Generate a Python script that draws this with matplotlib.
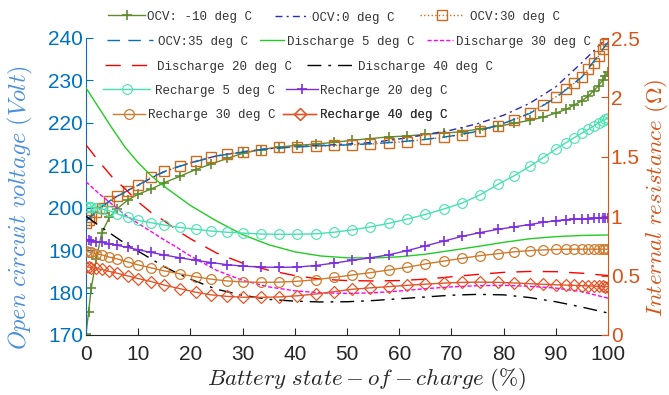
import matplotlib
matplotlib.use("Agg")
import matplotlib.pyplot as plt

plt.rcParams['font.family'] = ['Liberation Sans', 'DejaVu Sans']
plt.rcParams['mathtext.fontset'] = 'cm'

# state of charge grids (%)
soc_fine = [0, 0.5, 1, 2, 3, 4.5, 6, 8, 10, 12.5, 15, 18, 21, 24, 27, 30, 33.5, 37, 40.5, 44,
            47.5, 51, 54.5, 58, 61.5, 65, 68.5, 72, 75.5, 79, 82, 85, 87.5, 90, 92, 93.5, 95,
            96.2, 97.3, 98.2, 99, 99.5, 100]
soc_coarse = [0, 2.5, 5, 7.5, 10, 12.5, 15, 17.5, 20, 25, 30, 35, 40, 45, 50, 55, 60, 65, 70,
              75, 80, 85, 90, 95, 100]

# open circuit voltage (V)
ocv_m10 = [170.3, 175.5, 181, 188, 194, 197.8, 199.8, 201.8, 203.2, 204.4, 205.9, 207.4, 209,
           210.3, 211.6, 212.8, 213.7, 214.3, 214.7, 215.0, 215.4, 215.9, 216.3, 216.7, 216.9,
           217.3, 217.6, 217.9, 218.6, 219.2, 219.9, 220.6, 221.3, 222.3, 223.2, 224.2, 225.2,
           226.3, 227.6, 228.8, 230.2, 231.0, 232.0]
ocv_30 = [196.5, 197.2, 197.8, 199, 200, 201.5, 202.7, 204, 205.4, 207.2, 208.6, 209.8, 211,
          212, 212.6, 213.1, 213.7, 214.2, 214.4, 214.5, 214.7, 214.8, 215.0, 215.3, 215.6,
          216.1, 216.6, 217.2, 218.1, 219.3, 220.7, 222.4, 224.2, 226.1, 228.0, 229.3, 230.9,
          232.6, 234.2, 235.8, 237.4, 238.5, 239.3]
ocv_0 = [197, 199.8, 202, 203.8, 205.3, 207, 208.5, 209.6, 210.6, 212.2, 213.2, 213.9, 214.4,
         214.7, 215.0, 215.4, 216.2, 217.2, 218.3, 219.8, 221.8, 224.6, 228.5, 234.2, 240.3]
ocv_35 = [196.8, 199.8, 202.0, 203.7, 205.3, 207.1, 208.5, 209.6, 210.5, 212.2, 213.1, 213.9,
          214.3, 214.6, 214.8, 215.1, 215.5, 216.1, 216.9, 218.0, 219.9, 222.2, 225.9, 230.8,
          239.0]

# internal resistance while discharging (ohm)
dis_5 = [2.08, 1.91, 1.74, 1.58, 1.45, 1.34, 1.25, 1.17, 1.09, 0.96, 0.845, 0.76, 0.70, 0.665,
         0.65, 0.648, 0.658, 0.68, 0.712, 0.745, 0.78, 0.81, 0.828, 0.838, 0.842]
dis_20 = [1.60, 1.46, 1.33, 1.23, 1.12, 1.03, 0.96, 0.88, 0.81, 0.69, 0.605, 0.545, 0.50, 0.47,
          0.458, 0.455, 0.458, 0.47, 0.49, 0.51, 0.527, 0.535, 0.533, 0.52, 0.50]
dis_30 = [1.29, 1.19, 1.10, 1.01, 0.94, 0.87, 0.80, 0.735, 0.665, 0.545, 0.46, 0.405, 0.372,
          0.355, 0.35, 0.355, 0.37, 0.39, 0.405, 0.415, 0.418, 0.41, 0.395, 0.365, 0.31]
dis_40 = [1.0, 0.92, 0.845, 0.77, 0.705, 0.64, 0.575, 0.52, 0.47, 0.385, 0.335, 0.30, 0.285,
          0.278, 0.28, 0.29, 0.305, 0.32, 0.335, 0.342, 0.338, 0.315, 0.28, 0.235, 0.185]

# internal resistance while recharging (ohm)
rec_5 = [1.08, 1.078, 1.075, 1.068, 1.06, 1.045, 1.02, 0.99, 0.965, 0.945, 0.925, 0.905, 0.89,
         0.875, 0.865, 0.858, 0.85, 0.848, 0.848, 0.852, 0.865, 0.885, 0.91, 0.94, 0.975, 1.015,
         1.06, 1.11, 1.18, 1.27, 1.34, 1.42, 1.49, 1.565, 1.62, 1.66, 1.70, 1.73, 1.76, 1.785,
         1.805, 1.815, 1.83]
rec_20 = [0.80, 0.797, 0.794, 0.787, 0.78, 0.768, 0.755, 0.737, 0.717, 0.695, 0.673, 0.65,
          0.628, 0.61, 0.592, 0.58, 0.572, 0.569, 0.572, 0.585, 0.605, 0.628, 0.65, 0.675, 0.71,
          0.75, 0.79, 0.83, 0.862, 0.89, 0.91, 0.93, 0.948, 0.962, 0.97, 0.975, 0.978, 0.98,
          0.981, 0.982, 0.982, 0.982, 0.982]
rec_30 = [0.705, 0.70, 0.695, 0.685, 0.675, 0.655, 0.64, 0.615, 0.59, 0.565, 0.54, 0.515, 0.49,
          0.47, 0.455, 0.447, 0.443, 0.445, 0.452, 0.465, 0.485, 0.505, 0.525, 0.547, 0.57,
          0.598, 0.622, 0.645, 0.668, 0.685, 0.70, 0.71, 0.716, 0.72, 0.722, 0.722, 0.722,
          0.722, 0.722, 0.722, 0.722, 0.722, 0.722]
rec_40 = [0.575, 0.572, 0.568, 0.56, 0.552, 0.535, 0.52, 0.497, 0.475, 0.45, 0.42, 0.39, 0.36,
          0.338, 0.325, 0.318, 0.317, 0.32, 0.33, 0.345, 0.365, 0.385, 0.397, 0.407, 0.418,
          0.428, 0.437, 0.443, 0.445, 0.443, 0.438, 0.432, 0.427, 0.423, 0.42, 0.418, 0.415,
          0.413, 0.411, 0.41, 0.409, 0.408, 0.407]

W, H = 669, 395
fig = plt.figure(figsize=(W / 100, H / 100), dpi=100)
ax1 = fig.add_axes([86 / W, 1 - 335 / H, (608 - 86) / W, (335 - 38) / H])
ax2 = ax1.twinx()

blue = '#0072BD'
orange = '#D95319'

# voltage curves
l_m10, = ax1.plot(soc_fine, ocv_m10, color='#5E8C2A', lw=1, marker='+', ms=7, mew=1.2)
l_0, = ax1.plot(soc_coarse, ocv_0, color='#2A2AB8', lw=1, dashes=(5, 3, 1.5, 3))
l_30, = ax1.plot(soc_fine, ocv_30, color='#CC6A1E', lw=1, ls=':', marker='s', ms=7,
                 mfc='none', mew=1)
l_35, = ax1.plot(soc_coarse, ocv_35, color=blue, lw=1, dashes=(9, 6))

# resistance curves
d5, = ax2.plot(soc_coarse, dis_5, color='#22CC22', lw=1)
d30, = ax2.plot(soc_coarse, dis_30, color='#FF00FF', lw=1, dashes=(3, 1.5))
d20, = ax2.plot(soc_coarse, dis_20, color='#FF0000', lw=1, dashes=(11, 8))
d40, = ax2.plot(soc_coarse, dis_40, color='black', lw=1, dashes=(10, 5, 2, 5))
r5, = ax2.plot(soc_fine, rec_5, color='#45E2B0', lw=1, marker='o', ms=7, mfc='none', mew=0.8)
r20, = ax2.plot(soc_fine, rec_20, color='#7D2EDC', lw=1, marker='+', ms=7, mew=1.2)
r30, = ax2.plot(soc_fine, rec_30, color='#D07A2C', lw=1, marker='o', ms=7, mfc='none', mew=0.9)
r40, = ax2.plot(soc_fine, rec_40, color='#E0562A', lw=1, marker='D', ms=6.5, mfc='none', mew=0.9)

ax1.set_xlim(0, 100)
ax1.set_ylim(170, 240)
ax2.set_ylim(0, 2.5)
ax1.set_xticks(range(0, 101, 10))
ax1.set_yticks(range(170, 241, 10))
ax2.set_yticks([0, 0.5, 1, 1.5, 2, 2.5])
ax2.set_yticklabels(['0', '0.5', '1', '1.5', '2', '2.5'])

for a in (ax1, ax2):
    a.spines['top'].set_visible(False)
ax1.spines['right'].set_visible(False)
ax2.spines['left'].set_visible(False)
ax2.spines['bottom'].set_visible(False)
ax1.spines['left'].set_color(blue)
ax2.spines['right'].set_color(orange)
ax1.spines['bottom'].set_color('#262626')

ax1.tick_params(axis='x', direction='in', colors='#262626', labelsize=15, length=5, pad=7)
ax1.tick_params(axis='y', direction='in', colors=blue, labelsize=15, length=5, pad=2)
ax2.tick_params(axis='y', direction='in', colors=orange, labelsize=15, length=5, pad=2)

ax1.set_xlabel(r'$Battery\ state-of-charge\ (\%)$', fontsize=16.5, color='#262626')
ax1.set_ylabel(r'$Open\ circuit\ voltage\ (Volt)$', fontsize=17.5, color='#4A8FE0')
ax2.set_ylabel(r'$Internal\ resistance\ (\Omega)$', fontsize=16.5, color=orange)
ax1.xaxis.set_label_coords(0.538, -0.105)
ax1.yaxis.set_label_coords(-0.098, 0.431)
ax2.yaxis.set_label_coords(1.068, 0.461)

# legend entries: handle, label, handle start x, handle length, text start x, row y (pixels)
entries = [
    (l_m10, 'OCV: -10 deg C', 108, 37, 147, 16.7),
    (l_0, 'OCV:0 deg C', 275, 35, 312, 17.5),
    (l_30, 'OCV:30 deg C', 420, 43, 470, 16.7),
    (l_35, 'OCV:35 deg C', 107, 46, 158, 41.7),
    (d5, 'Discharge 5 deg C', 260, 24, 287, 41.7),
    (d30, 'Discharge 30 deg C', 427, 26, 456, 41.7),
    (d20, 'Discharge 20 deg C', 105, 47, 157, 66.7),
    (d40, 'Discharge 40 deg C', 307, 46, 358, 66.7),
    (r5, 'Recharge 5 deg C', 103, 47, 155, 90.7),
    (r20, 'Recharge 20 deg C', 286, 32, 320, 90.7),
    (r30, 'Recharge 30 deg C', 113, 32, 148, 115),
    (r40, 'Recharge 40 deg C', 283, 33, 320, 115),
]
fs_px = 9 * 100 / 72
for h, lab, x0, length, xt, y in entries:
    leg = ax2.legend([h], [lab], loc='center left', bbox_to_anchor=(x0 / W, 1 - y / H),
                     bbox_transform=fig.transFigure, frameon=False,
                     prop={'family': 'Liberation Mono', 'size': 9},
                     handlelength=length / fs_px, handletextpad=(xt - x0 - length) / fs_px,
                     borderpad=0, borderaxespad=0, labelcolor='#333333')
    ax2.add_artist(leg)

fig.savefig('out.png', dpi=100)
